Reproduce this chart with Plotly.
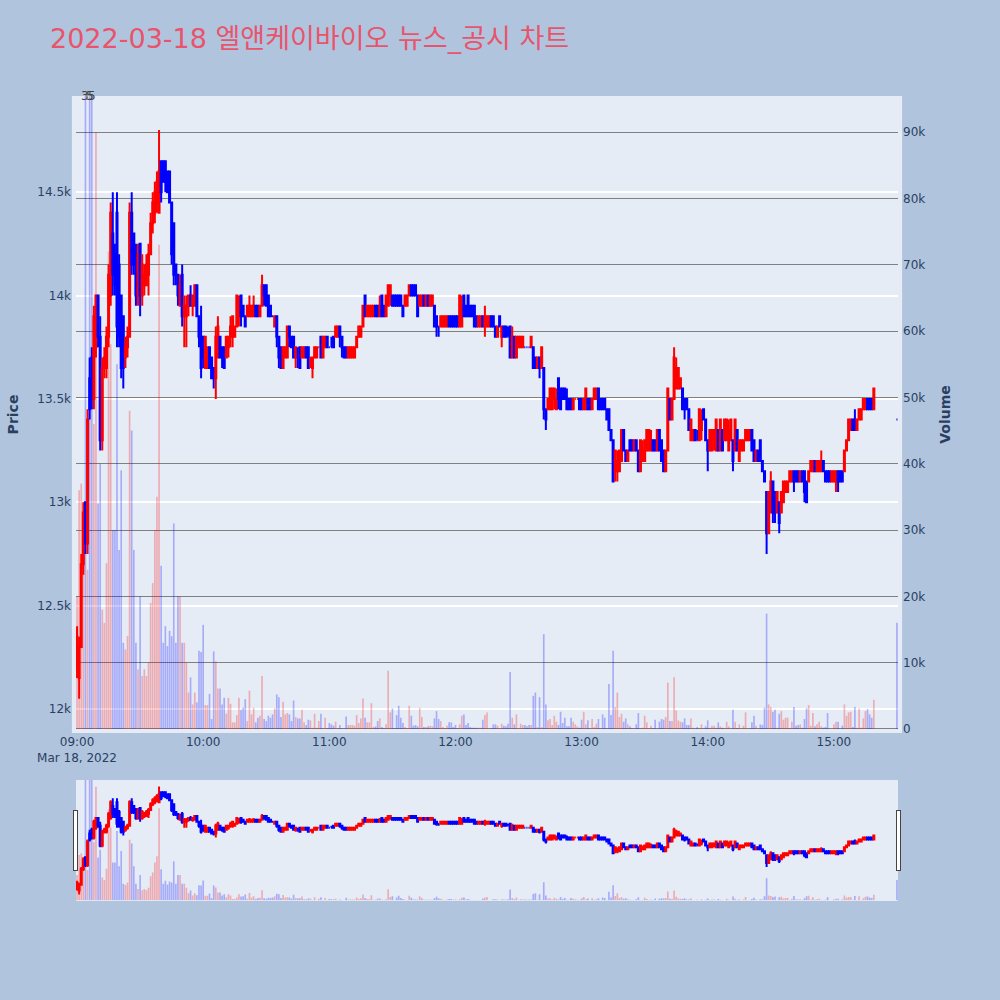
import plotly.graph_objects as go

# ---------------- data (1-minute candles, 2022-03-18) ----------------
minute_offsets = list(range(380)) + [390]          # minutes after 09:00
times = [f"2022-03-18 {9 + m // 60:02d}:{m % 60:02d}" for m in minute_offsets]

opens = [
    12200, 12150, 12300, 12700, 13000, 12800, 13600, 13700, 13500, 13750,
    14000, 13800, 13300, 13650, 13650, 13800, 14000, 14300, 14200, 14400,
    14150, 14000, 13900, 13700, 13750, 13800, 14400, 14300, 14200, 14000,
    14250, 14000, 14050, 14050, 14100, 14200, 14350, 14400, 14450, 14400,
    14650, 14650, 14650, 14600, 14600, 14450, 14350, 14150, 14100, 13950,
    14100, 13900, 13900, 13950, 14000, 13950, 13950, 14050, 13900, 13800,
    13800, 13650, 13650, 13750, 13700, 13650, 13600, 13700, 13800, 13750,
    13750, 13700, 13750, 13800, 13800, 13800, 13850, 13900, 14000, 13950,
    13900, 13900, 13900, 13900, 13900, 13950, 13950, 13900, 13950, 14050,
    14050, 14000, 13950, 13900, 13850, 13900, 13800, 13750, 13650, 13700,
    13700, 13850, 13800, 13800, 13700, 13700, 13750, 13700, 13700, 13750,
    13750, 13700, 13650, 13700, 13700, 13750, 13800, 13700, 13750, 13800,
    13750, 13750, 13800, 13800, 13800, 13850, 13800, 13750, 13750, 13700,
    13700, 13700, 13700, 13750, 13800, 13800, 13850, 14000, 13900, 13900,
    13900, 13900, 13950, 13950, 13900, 14000, 13950, 13900, 13950, 14000,
    14000, 14000, 14000, 14000, 14000, 13950, 13950, 13950, 14000, 14050,
    14050, 14050, 14000, 13950, 13950, 14000, 13950, 14000, 13950, 13950,
    13950, 13900, 13850, 13850, 13850, 13850, 13850, 13900, 13900, 13900,
    13900, 13900, 13850, 13850, 14000, 13950, 14000, 13950, 13950, 13950,
    13900, 13850, 13850, 13900, 13850, 13850, 13850, 13900, 13900, 13850,
    13800, 13900, 13800, 13850, 13850, 13800, 13850, 13700, 13800, 13700,
    13750, 13750, 13750, 13750, 13750, 13750, 13750, 13750, 13700, 13650,
    13700, 13650, 13650, 13450, 13450, 13450, 13450, 13500, 13450, 13600,
    13550, 13550, 13550, 13500, 13500, 13500, 13450, 13500, 13500, 13500,
    13500, 13450, 13450, 13500, 13500, 13450, 13500, 13500, 13550, 13500,
    13500, 13500, 13450, 13450, 13350, 13300, 13150, 13150, 13150, 13200,
    13350, 13250, 13200, 13300, 13300, 13250, 13300, 13250, 13150, 13200,
    13200, 13250, 13250, 13250, 13300, 13300, 13250, 13350, 13300, 13250,
    13150, 13250, 13500, 13400, 13500, 13550, 13550, 13550, 13550, 13500,
    13500, 13450, 13300, 13300, 13350, 13300, 13300, 13350, 13450, 13400,
    13300, 13250, 13250, 13300, 13250, 13350, 13250, 13350, 13300, 13300,
    13250, 13300, 13300, 13250, 13350, 13200, 13250, 13250, 13300, 13300,
    13300, 13350, 13300, 13200, 13250, 13300, 13200, 13150, 13050, 12850,
    12950, 13100, 13050, 12950, 13000, 12950, 13000, 13050, 13050, 13100,
    13100, 13150, 13150, 13150, 13100, 13150, 13150, 13100, 13100, 13150,
    13150, 13200, 13150, 13150, 13150, 13200, 13150, 13150, 13150, 13100,
    13100, 13100, 13150, 13150, 13150, 13150, 13250, 13300, 13350, 13400,
    13400, 13350, 13400, 13400, 13450, 13450, 13500, 13500, 13500, 13450,
    13400,
]

highs = [
    12400, 12350, 12750, 13000, 13000, 13450, 13700, 13750, 13950, 14000,
    14000, 13900, 13700, 13750, 13850, 14150, 14450, 14500, 14250, 14500,
    14200, 14000, 13900, 13800, 13850, 14450, 14500, 14300, 14250, 14250,
    14250, 14200, 14150, 14200, 14250, 14400, 14500, 14550, 14600, 14800,
    14650, 14650, 14650, 14600, 14600, 14450, 14350, 14150, 14100, 14100,
    14150, 14000, 14000, 14000, 14050, 14000, 14050, 14050, 13900, 13950,
    13800, 13800, 13750, 13750, 13700, 13650, 13850, 13900, 13800, 13750,
    13750, 13800, 13800, 13900, 13900, 13850, 14000, 14000, 14000, 13950,
    13900, 13950, 14000, 13950, 14000, 13950, 13950, 13950, 14100, 14050,
    14050, 14000, 13950, 13900, 13900, 13900, 13800, 13750, 13750, 13750,
    13850, 13850, 13800, 13800, 13750, 13750, 13750, 13750, 13750, 13750,
    13750, 13700, 13700, 13750, 13750, 13750, 13800, 13800, 13800, 13800,
    13750, 13800, 13800, 13850, 13850, 13850, 13800, 13750, 13750, 13750,
    13750, 13750, 13750, 13800, 13850, 13850, 13950, 14000, 13950, 13950,
    13950, 13950, 13950, 13950, 14000, 14000, 13950, 14000, 14050, 14050,
    14000, 14000, 14000, 14000, 14000, 13950, 14000, 14000, 14050, 14050,
    14050, 14050, 14000, 14000, 14000, 14000, 14000, 14000, 14000, 14000,
    13950, 13900, 13850, 13900, 13900, 13900, 13900, 13900, 13900, 13900,
    13900, 13900, 14000, 14000, 14000, 13950, 14000, 13950, 13950, 13950,
    13900, 13900, 13900, 13900, 13950, 13900, 13900, 13900, 13900, 13850,
    13850, 13900, 13850, 13850, 13850, 13850, 13850, 13850, 13800, 13800,
    13800, 13800, 13800, 13750, 13750, 13750, 13800, 13750, 13700, 13700,
    13700, 13750, 13650, 13450, 13500, 13550, 13550, 13550, 13550, 13600,
    13550, 13550, 13550, 13550, 13500, 13500, 13500, 13500, 13500, 13500,
    13500, 13500, 13550, 13500, 13500, 13500, 13550, 13550, 13550, 13500,
    13500, 13500, 13450, 13450, 13350, 13300, 13250, 13250, 13250, 13350,
    13350, 13250, 13250, 13300, 13300, 13300, 13300, 13250, 13300, 13300,
    13300, 13350, 13350, 13350, 13300, 13300, 13350, 13350, 13300, 13250,
    13250, 13550, 13500, 13500, 13750, 13700, 13650, 13600, 13550, 13500,
    13500, 13450, 13400, 13350, 13350, 13350, 13450, 13450, 13450, 13400,
    13300, 13350, 13350, 13350, 13400, 13350, 13400, 13350, 13400, 13400,
    13400, 13400, 13300, 13400, 13350, 13300, 13300, 13300, 13350, 13350,
    13350, 13350, 13300, 13250, 13250, 13300, 13200, 13150, 13050, 13050,
    13150, 13100, 13050, 13050, 13000, 13050, 13100, 13100, 13100, 13150,
    13150, 13150, 13150, 13150, 13150, 13150, 13150, 13100, 13150, 13200,
    13200, 13200, 13200, 13200, 13250, 13200, 13150, 13150, 13150, 13150,
    13150, 13150, 13150, 13150, 13150, 13250, 13300, 13400, 13400, 13400,
    13450, 13400, 13450, 13450, 13500, 13500, 13500, 13500, 13500, 13550,
    13400,
]

lows = [
    12150, 12050, 12300, 12650, 12750, 12750, 13400, 13450, 13450, 13700,
    13750, 13250, 13250, 13600, 13600, 13750, 13950, 14000, 14000, 13750,
    13750, 13600, 13550, 13650, 13700, 13800, 14100, 14100, 13950, 13950,
    13900, 13950, 14000, 14050, 14000, 14200, 14300, 14350, 14400, 14400,
    14450, 14550, 14500, 14500, 14450, 14150, 14050, 14050, 13950, 13950,
    13850, 13750, 13750, 13900, 13950, 13900, 13950, 13900, 13750, 13600,
    13650, 13650, 13650, 13650, 13600, 13550, 13500, 13700, 13700, 13650,
    13650, 13700, 13700, 13750, 13750, 13800, 13850, 13850, 13850, 13900,
    13850, 13900, 13900, 13900, 13900, 13900, 13900, 13900, 13950, 13950,
    13950, 13900, 13900, 13900, 13850, 13750, 13650, 13650, 13650, 13700,
    13700, 13750, 13750, 13700, 13650, 13650, 13650, 13700, 13700, 13700,
    13650, 13650, 13600, 13700, 13700, 13750, 13700, 13700, 13750, 13750,
    13750, 13750, 13750, 13800, 13800, 13750, 13700, 13700, 13700, 13700,
    13700, 13700, 13700, 13750, 13800, 13800, 13850, 13900, 13900, 13900,
    13900, 13900, 13900, 13900, 13900, 13900, 13900, 13900, 13950, 13950,
    13950, 13950, 13950, 13950, 13950, 13900, 13950, 13950, 14000, 14000,
    14000, 14000, 13900, 13950, 13950, 13950, 13950, 13950, 13950, 13950,
    13850, 13800, 13800, 13850, 13850, 13850, 13850, 13850, 13850, 13850,
    13850, 13850, 13850, 13850, 13900, 13900, 13900, 13900, 13900, 13850,
    13850, 13850, 13850, 13850, 13800, 13850, 13850, 13850, 13850, 13800,
    13800, 13850, 13750, 13800, 13800, 13800, 13700, 13700, 13700, 13700,
    13750, 13750, 13750, 13750, 13750, 13750, 13750, 13650, 13650, 13650,
    13600, 13650, 13400, 13350, 13450, 13450, 13450, 13450, 13450, 13450,
    13450, 13500, 13500, 13450, 13450, 13450, 13450, 13500, 13500, 13450,
    13450, 13450, 13450, 13450, 13450, 13450, 13500, 13500, 13450, 13450,
    13450, 13450, 13400, 13350, 13300, 13100, 13100, 13100, 13150, 13200,
    13250, 13200, 13200, 13250, 13250, 13250, 13250, 13150, 13150, 13200,
    13200, 13250, 13250, 13250, 13250, 13250, 13250, 13250, 13200, 13150,
    13150, 13250, 13400, 13400, 13500, 13550, 13550, 13550, 13450, 13400,
    13450, 13350, 13300, 13300, 13300, 13300, 13300, 13300, 13400, 13300,
    13150, 13250, 13250, 13250, 13250, 13250, 13250, 13250, 13300, 13300,
    13250, 13300, 13150, 13250, 13250, 13200, 13250, 13250, 13300, 13300,
    13300, 13250, 13200, 13200, 13200, 13200, 13150, 13100, 12750, 12850,
    12950, 12900, 12900, 12950, 12850, 12950, 13000, 13050, 13050, 13100,
    13100, 13050, 13100, 13100, 13100, 13100, 13000, 13000, 13100, 13150,
    13150, 13150, 13150, 13150, 13150, 13150, 13100, 13100, 13100, 13100,
    13100, 13050, 13050, 13100, 13100, 13150, 13250, 13300, 13350, 13350,
    13350, 13350, 13400, 13400, 13450, 13450, 13450, 13450, 13450, 13450,
    13400,
]

closes = [
    12350, 12300, 12700, 12950, 12800, 13400, 13450, 13500, 13900, 14000,
    13800, 13300, 13650, 13700, 13800, 14100, 14400, 14100, 14050, 13850,
    13800, 13650, 13650, 13750, 13800, 14400, 14150, 14150, 14000, 14200,
    14000, 14150, 14100, 14150, 14200, 14350, 14450, 14500, 14550, 14600,
    14500, 14550, 14550, 14500, 14450, 14200, 14100, 14100, 14000, 14050,
    13900, 13950, 13950, 14000, 13950, 14000, 14050, 13900, 13800, 13650,
    13700, 13800, 13750, 13650, 13600, 13600, 13800, 13850, 13700, 13700,
    13650, 13800, 13800, 13850, 13900, 13850, 14000, 13950, 13900, 13900,
    13850, 13950, 13950, 13950, 13950, 13900, 13900, 13950, 14050, 14000,
    13950, 13900, 13900, 13900, 13900, 13800, 13700, 13650, 13750, 13750,
    13850, 13800, 13750, 13700, 13750, 13700, 13650, 13750, 13750, 13700,
    13650, 13700, 13700, 13750, 13750, 13750, 13700, 13800, 13800, 13750,
    13750, 13750, 13750, 13850, 13850, 13800, 13750, 13700, 13700, 13750,
    13750, 13750, 13750, 13800, 13850, 13850, 13950, 13900, 13950, 13950,
    13950, 13950, 13900, 13900, 13950, 13900, 13900, 14000, 14050, 14050,
    13950, 13950, 13950, 13950, 13950, 13900, 14000, 14000, 14050, 14000,
    14000, 14000, 13900, 14000, 14000, 13950, 14000, 13950, 14000, 14000,
    13850, 13850, 13850, 13900, 13900, 13900, 13900, 13850, 13850, 13850,
    13850, 13850, 14000, 13950, 13900, 13900, 13900, 13900, 13900, 13850,
    13850, 13900, 13900, 13850, 13900, 13900, 13900, 13850, 13850, 13800,
    13850, 13850, 13850, 13800, 13800, 13800, 13700, 13800, 13700, 13800,
    13800, 13800, 13800, 13750, 13750, 13750, 13800, 13650, 13650, 13700,
    13650, 13750, 13450, 13400, 13500, 13550, 13550, 13550, 13500, 13500,
    13450, 13500, 13500, 13450, 13450, 13450, 13500, 13500, 13500, 13450,
    13450, 13500, 13550, 13450, 13450, 13500, 13550, 13550, 13450, 13450,
    13450, 13450, 13400, 13350, 13300, 13100, 13250, 13200, 13250, 13350,
    13250, 13200, 13250, 13250, 13250, 13300, 13250, 13150, 13300, 13250,
    13300, 13350, 13350, 13300, 13250, 13250, 13350, 13250, 13200, 13150,
    13250, 13550, 13400, 13500, 13700, 13650, 13650, 13600, 13450, 13450,
    13450, 13350, 13400, 13350, 13300, 13300, 13450, 13400, 13400, 13300,
    13250, 13350, 13350, 13350, 13400, 13250, 13400, 13250, 13400, 13400,
    13350, 13400, 13200, 13400, 13250, 13300, 13300, 13300, 13350, 13350,
    13350, 13250, 13200, 13250, 13200, 13200, 13150, 13100, 12850, 13050,
    13100, 12950, 12950, 13050, 12900, 13050, 13100, 13100, 13100, 13150,
    13150, 13100, 13100, 13100, 13150, 13100, 13050, 13000, 13150, 13200,
    13200, 13150, 13200, 13200, 13200, 13150, 13100, 13100, 13100, 13150,
    13150, 13150, 13100, 13100, 13100, 13250, 13300, 13400, 13400, 13350,
    13350, 13400, 13450, 13450, 13500, 13500, 13450, 13450, 13450, 13550,
    13400,
]

volumes = [
    20000, 36000, 37000, 28000, 150000, 24000, 130000, 120000, 46000, 90000,
    34000, 40000, 18000, 16000, 25000, 72000, 58000, 30000, 30000, 55000,
    27000, 39000, 13000, 12000, 14000, 48000, 45000, 27000, 13000, 9000,
    20000, 8000, 9000, 8000, 10000, 19000, 22000, 30000, 35000, 73000,
    24600, 13000, 15500, 12500, 14800, 14000, 31000, 13000, 20000, 20000,
    13000, 13000, 10000, 5500, 7800, 3700, 5500, 4000, 11800, 11600,
    15700, 3600, 3600, 5300, 1500, 11700, 10200, 6100, 6100, 3700,
    4700, 2300, 4700, 3800, 1000, 1000, 2100, 4700, 2900, 3200,
    4500, 1200, 5800, 2200, 3200, 1000, 1700, 2000, 8000, 1500,
    1200, 2000, 1700, 2200, 3100, 5200, 4800, 1800, 4100, 2200,
    2400, 2200, 1200, 4300, 1800, 1600, 1600, 2900, 1000, 600,
    1400, 1300, 200, 2300, 200, 1200, 2300, 100, 1700, 100,
    900, 700, 500, 1100, 100, 600, 100, 50, 1900, 600,
    600, 600, 500, 2100, 900, 1600, 4600, 1700, 1000, 1000,
    3900, 300, 400, 1200, 1600, 300, 100, 700, 8800, 2500,
    3100, 100, 2100, 3500, 1700, 900, 300, 100, 3500, 2000,
    500, 600, 400, 3200, 1800, 300, 300, 400, 500, 400,
    1600, 2700, 1500, 1200, 300, 100, 500, 1000, 1000, 300,
    600, 100, 700, 2000, 2200, 600, 900, 300, 200, 200,
    200, 200, 200, 1400, 2100, 2500, 50, 100, 700, 700,
    500, 50, 800, 500, 400, 800, 8600, 1700, 700, 2200,
    50, 800, 600, 600, 400, 600, 600, 5000, 5500, 300,
    4800, 300, 14300, 3700, 1300, 1500, 600, 2000, 1100, 600,
    2600, 900, 1700, 400, 400, 1700, 1100, 700, 400, 200,
    1400, 2600, 700, 1300, 50, 1500, 300, 800, 1500, 50,
    2200, 1700, 100, 6800, 2100, 11800, 3300, 5500, 1800, 2300,
    1100, 1600, 700, 400, 100, 100, 700, 2400, 100, 200,
    2000, 1000, 100, 500, 100, 1400, 50, 1100, 1500, 1400,
    1800, 7000, 1200, 1200, 7800, 2800, 1300, 1100, 1000, 1600,
    600, 600, 1600, 200, 50, 300, 50, 700, 50, 400,
    1300, 200, 500, 500, 200, 1000, 400, 200, 50, 1100,
    400, 20, 2900, 1100, 150, 700, 20, 500, 2500, 20,
    100, 1000, 2000, 500, 50, 700, 600, 3200, 17400, 3700,
    3300, 2600, 2900, 200, 2300, 2700, 1400, 1700, 1700, 150,
    1100, 3300, 500, 600, 700, 200, 1500, 3100, 3600, 500,
    2400, 400, 700, 1100, 400, 200, 300, 2400, 20, 20,
    700, 1100, 1100, 20, 500, 3700, 2000, 2500, 2600, 300,
    3300, 200, 3100, 200, 1600, 2700, 3000, 2200, 1700, 4400,
    16000,
]

# news / disclosure markers shown at the top edge
marker_idx = [4, 6, 7]
marker_text = ["3", "5", "5"]

# ---------------- styling ----------------
FONT = 'DejaVu Sans, "Noto Sans CJK KR", sans-serif'
UP = "red"
DOWN = "blue"
UP_VOL = "rgba(255,0,0,0.27)"
DOWN_VOL = "rgba(0,0,255,0.27)"

vol_colors = []
prev_close = None
last_up = True
for o, c in zip(opens, closes):
    if c > o:
        up = True
    elif c < o:
        up = False
    elif prev_close is not None and c != prev_close:
        up = c > prev_close
    else:
        up = last_up
    vol_colors.append(UP_VOL if up else DOWN_VOL)
    last_up = up
    prev_close = c

fig = go.Figure()
fig.add_trace(go.Bar(
    x=times, y=volumes, yaxis="y", name="Volume",
    marker=dict(color=vol_colors, line=dict(width=0)),
    showlegend=False,
))
fig.add_trace(go.Candlestick(
    x=times, open=opens, high=highs, low=lows, close=closes, yaxis="y2",
    name="Price",
    increasing=dict(line=dict(color=UP, width=2), fillcolor=UP),
    decreasing=dict(line=dict(color=DOWN, width=2), fillcolor=DOWN),
    showlegend=False,
))

for i, txt in zip(marker_idx, marker_text):
    fig.add_annotation(x=times[i], y=1, xref="x", yref="paper", text=txt,
                       showarrow=False, yanchor="middle",
                       font=dict(size=12, color="#444"))

fig.add_shape(type="rect", xref="paper", yref="paper", x0=-0.005, x1=1.005,
              y0=0, y1=1, fillcolor="#E5ECF6", line=dict(width=0), layer="below")

fig.update_layout(
    font=dict(family=FONT),
    title=dict(text="2022-03-18 엘앤케이바이오 뉴스_공시 차트",
               font=dict(size=27, color="#E8546C", family=FONT)),
    paper_bgcolor="#B0C4DE",
    plot_bgcolor="#E5ECF6",
    margin=dict(l=76, r=102, t=96, b=100),
    showlegend=False,
    bargap=0.2,
    xaxis=dict(type="date",
               range=["2022-03-18 08:59:30", "2022-03-18 15:30:30"],
               showgrid=False,
               rangeslider=dict(visible=True)),
    yaxis=dict(title=dict(text="<b>Volume</b>", font=dict(size=14)),
               side="right", range=[-604, 95436], dtick=10000,
               ticklabelstandoff=4,
               showgrid=True, gridcolor="gray", gridwidth=1, zeroline=False),
    yaxis2=dict(title=dict(text="<b>Price</b>", font=dict(size=14)),
                side="left", overlaying="y", range=[11884, 14965], dtick=500,
                ticklabelstandoff=4,
                showgrid=True, gridcolor="white", gridwidth=2, zeroline=False),
)

# let the figure fill the whole page (no default 8px body margin)
fill_page = (
    "document.documentElement.style.margin='0';"
    "document.body.style.margin='0';"
    "document.documentElement.style.height='100%';"
    "document.body.style.height='100%';"
    "var gd=document.getElementById('{plot_id}');"
    "gd.style.width='100vw';gd.style.height='100vh';"
    "Plotly.Plots.resize(gd);"
)

fig.write_html("out.html", post_script=fill_page,
               config={"displayModeBar": False})
